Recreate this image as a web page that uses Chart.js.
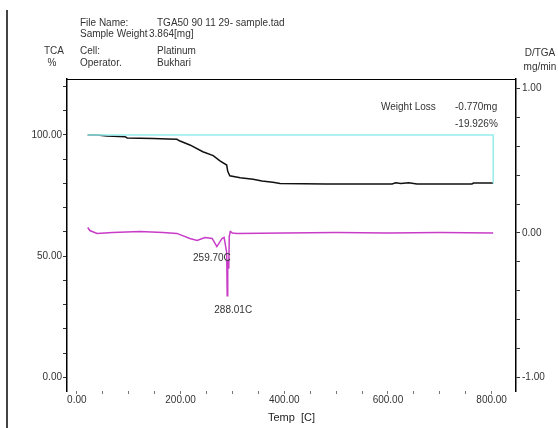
<!DOCTYPE html>
<html>
<head>
<meta charset="utf-8">
<script src="https://cdn.jsdelivr.net/npm/chart.js@4"></script>
<style>
  html, body { margin: 0; padding: 0; background: #fff; }
  #wrap { width: 558px; height: 428px; }
</style>
</head>
<body>
<div id="wrap"><canvas id="c" width="558" height="428"></canvas></div>
<script>
// ---- data ----
const tgaTemp = [21, 39, 58, 93, 97, 147, 176, 193, 199, 218, 243, 263, 276, 289, 291, 295, 315, 340, 357, 378, 392, 480, 608, 615, 625, 640, 656, 700, 762, 765, 803];
const tgaPct  = [100.0, 100.0, 99.6, 99.3, 98.8, 98.6, 98.3, 98.2, 97.5, 95.9, 93.1, 91.5, 89.3, 87.6, 85.0, 83.2, 82.4, 81.7, 81.0, 80.5, 80.0, 79.8, 79.8, 80.3, 80.0, 80.3, 79.8, 79.8, 79.8, 80.2, 80.2];

const dtgTemp = [21, 25, 39, 69, 122, 166, 193, 218, 232, 247, 261, 270, 280, 284, 289, 290, 291, 293, 294, 296, 300, 309, 400, 500, 600, 700, 803];
const dtgRate = [0.038, 0.017, -0.003, 0.003, 0.010, 0.003, -0.003, -0.038, -0.052, -0.031, -0.038, -0.094, -0.038, -0.031, -0.135, -0.434, -0.191, -0.247, -0.024, 0.010, 0.000, -0.003, 0.000, 0.003, 0.000, 0.003, 0.000];

const lossTemp = [21, 803, 803];
const lossPct  = [100.0, 100.0, 80.07];

const xTickValues  = [0, 50, 100, 150, 200, 250, 300, 350, 400, 450, 500, 550, 600, 650, 700, 750, 800];
const xLabeled     = [0, 200, 400, 600, 800];
const leftTicks    = [0, 10, 20, 30, 40, 50, 60, 70, 80, 90, 100, 110, 120];
const leftLabeled  = [0, 50, 100];
const rightTicks   = [-1, -0.8, -0.6, -0.4, -0.2, 0, 0.2, 0.4, 0.6, 0.8, 1];
const rightLabeled = [-1, 0, 1];

const peakTemps  = [270, 290];
const peakRates  = [-0.094, -0.434];
const peakLabels = ['259.70C', '288.01C'];

const headerKeys   = ['File Name:', 'Sample Weight', 'Cell:', 'Operator.'];
const headerValues = ['TGA50 90 11 29- sample.tad', '3.864[mg]', 'Platinum', 'Bukhari'];
const weightLoss   = ['Weight Loss', '-0.770mg', '-19.926%'];

const FONT = '"Liberation Sans", Arial, sans-serif';
const TXT = '#333';

const decor = {
  id: 'decor',
  afterDraw(chart) {
    const ctx = chart.ctx, a = chart.chartArea;
    const xs = chart.scales.x, yr = chart.scales.y1;
    ctx.save();
    // page border line at left
    ctx.strokeStyle = '#444'; ctx.lineWidth = 2;
    ctx.beginPath(); ctx.moveTo(7, 10); ctx.lineTo(7, 428); ctx.stroke();
    // top frame line
    ctx.strokeStyle = '#000'; ctx.lineWidth = 1;
    ctx.beginPath(); ctx.moveTo(a.left, a.top + 0.5); ctx.lineTo(a.right, a.top + 0.5); ctx.stroke();

    ctx.fillStyle = TXT;
    ctx.font = '10px ' + FONT;
    ctx.textBaseline = 'middle';
    ctx.textAlign = 'left';
    const rows = [23, 34, 51, 63];
    const valX = [157, 149, 157, 157];
    headerKeys.forEach((k, i) => {
      ctx.fillText(k, 80, rows[i]);
      ctx.fillText(headerValues[i], valX[i], rows[i]);
    });
    // axis unit labels
    ctx.textAlign = 'center';
    ctx.fillText('TCA', 54, 51);
    ctx.fillText('%', 52, 63);
    ctx.fillText('D/TGA', 540, 53);
    ctx.fillText('mg/min', 540, 67);
    // weight loss
    ctx.textAlign = 'left';
    ctx.fillText(weightLoss[0], 381, 107);
    ctx.fillText(weightLoss[1], 455, 107);
    ctx.fillText(weightLoss[2], 455, 124);
    // peak labels
    ctx.textAlign = 'right';
    ctx.fillText(peakLabels[0], xs.getPixelForValue(peakTemps[0]) + 14, yr.getPixelForValue(peakRates[0]) + 12);
    ctx.textAlign = 'center';
    ctx.fillText(peakLabels[1], xs.getPixelForValue(peakTemps[1]) + 6, yr.getPixelForValue(peakRates[1]) + 15);
    ctx.restore();
  }
};

const toXY = (xs, ys) => xs.map((x, i) => ({ x: x, y: ys[i] }));

new Chart(document.getElementById('c'), {
  type: 'line',
  data: {
    datasets: [
      { label: 'loss', data: toXY(lossTemp, lossPct), yAxisID: 'y', borderColor: 'rgb(150,236,236)', borderWidth: 1.5, pointRadius: 0, tension: 0 },
      { label: 'TGA', data: toXY(tgaTemp, tgaPct), yAxisID: 'y', borderColor: '#111', borderWidth: 1.5, pointRadius: 0, tension: 0 },
      { label: 'DTG', data: toXY(dtgTemp, dtgRate), yAxisID: 'y1', borderColor: 'rgb(200,60,200)', borderWidth: 1.5, pointRadius: 0, tension: 0 }
    ]
  },
  options: {
    responsive: false,
    devicePixelRatio: 1,
    animation: false,
    layout: { padding: { top: 79, left: 0, right: 0, bottom: 0 } },
    plugins: { legend: { display: false }, tooltip: { enabled: false }, title: { display: false } },
    scales: {
      x: {
        type: 'linear', min: -19, max: 847,
        afterBuildTicks: s => { s.ticks = xTickValues.map(v => ({ value: v })); },
        afterFit: s => { s.height = 37; },
        border: { display: false },
        grid: { drawOnChartArea: false, drawTicks: true, tickLength: 3, color: '#777' },
        ticks: { autoSkip: false, maxRotation: 0, padding: 0, color: TXT, font: { family: FONT, size: 10 },
                 callback: v => xLabeled.includes(v) ? v.toFixed(2) : '' },
        title: { display: true, text: 'Temp  [C]', color: '#222', font: { family: FONT, size: 11 }, padding: { top: 0, bottom: 3 } }
      },
      y: {
        type: 'linear', position: 'left', min: -5.6, max: 123.1,
        afterBuildTicks: s => { s.ticks = leftTicks.map(v => ({ value: v })); },
        afterFit: s => { s.width = 67; },
        border: { display: true, color: '#000', width: 1.5 },
        grid: { drawOnChartArea: false, drawTicks: true, tickLength: 4, color: '#333' },
        ticks: { autoSkip: false, padding: 1, color: TXT, font: { family: FONT, size: 10 },
                 callback: v => leftLabeled.includes(v) ? v.toFixed(2) : '' }
      },
      y1: {
        type: 'linear', position: 'right', min: -1.094, max: 1.066,
        afterBuildTicks: s => { s.ticks = rightTicks.map(v => ({ value: v })); },
        afterFit: s => { s.width = 42; },
        border: { display: true, color: '#000', width: 1.5 },
        grid: { drawOnChartArea: false, drawTicks: true, tickLength: 4, color: '#333' },
        ticks: { autoSkip: false, padding: 2, color: TXT, font: { family: FONT, size: 10 },
                 callback: v => rightLabeled.some(r => Math.abs(r - v) < 1e-9) ? v.toFixed(2) : '' }
      }
    }
  },
  plugins: [decor]
});
</script>
</body>
</html>
